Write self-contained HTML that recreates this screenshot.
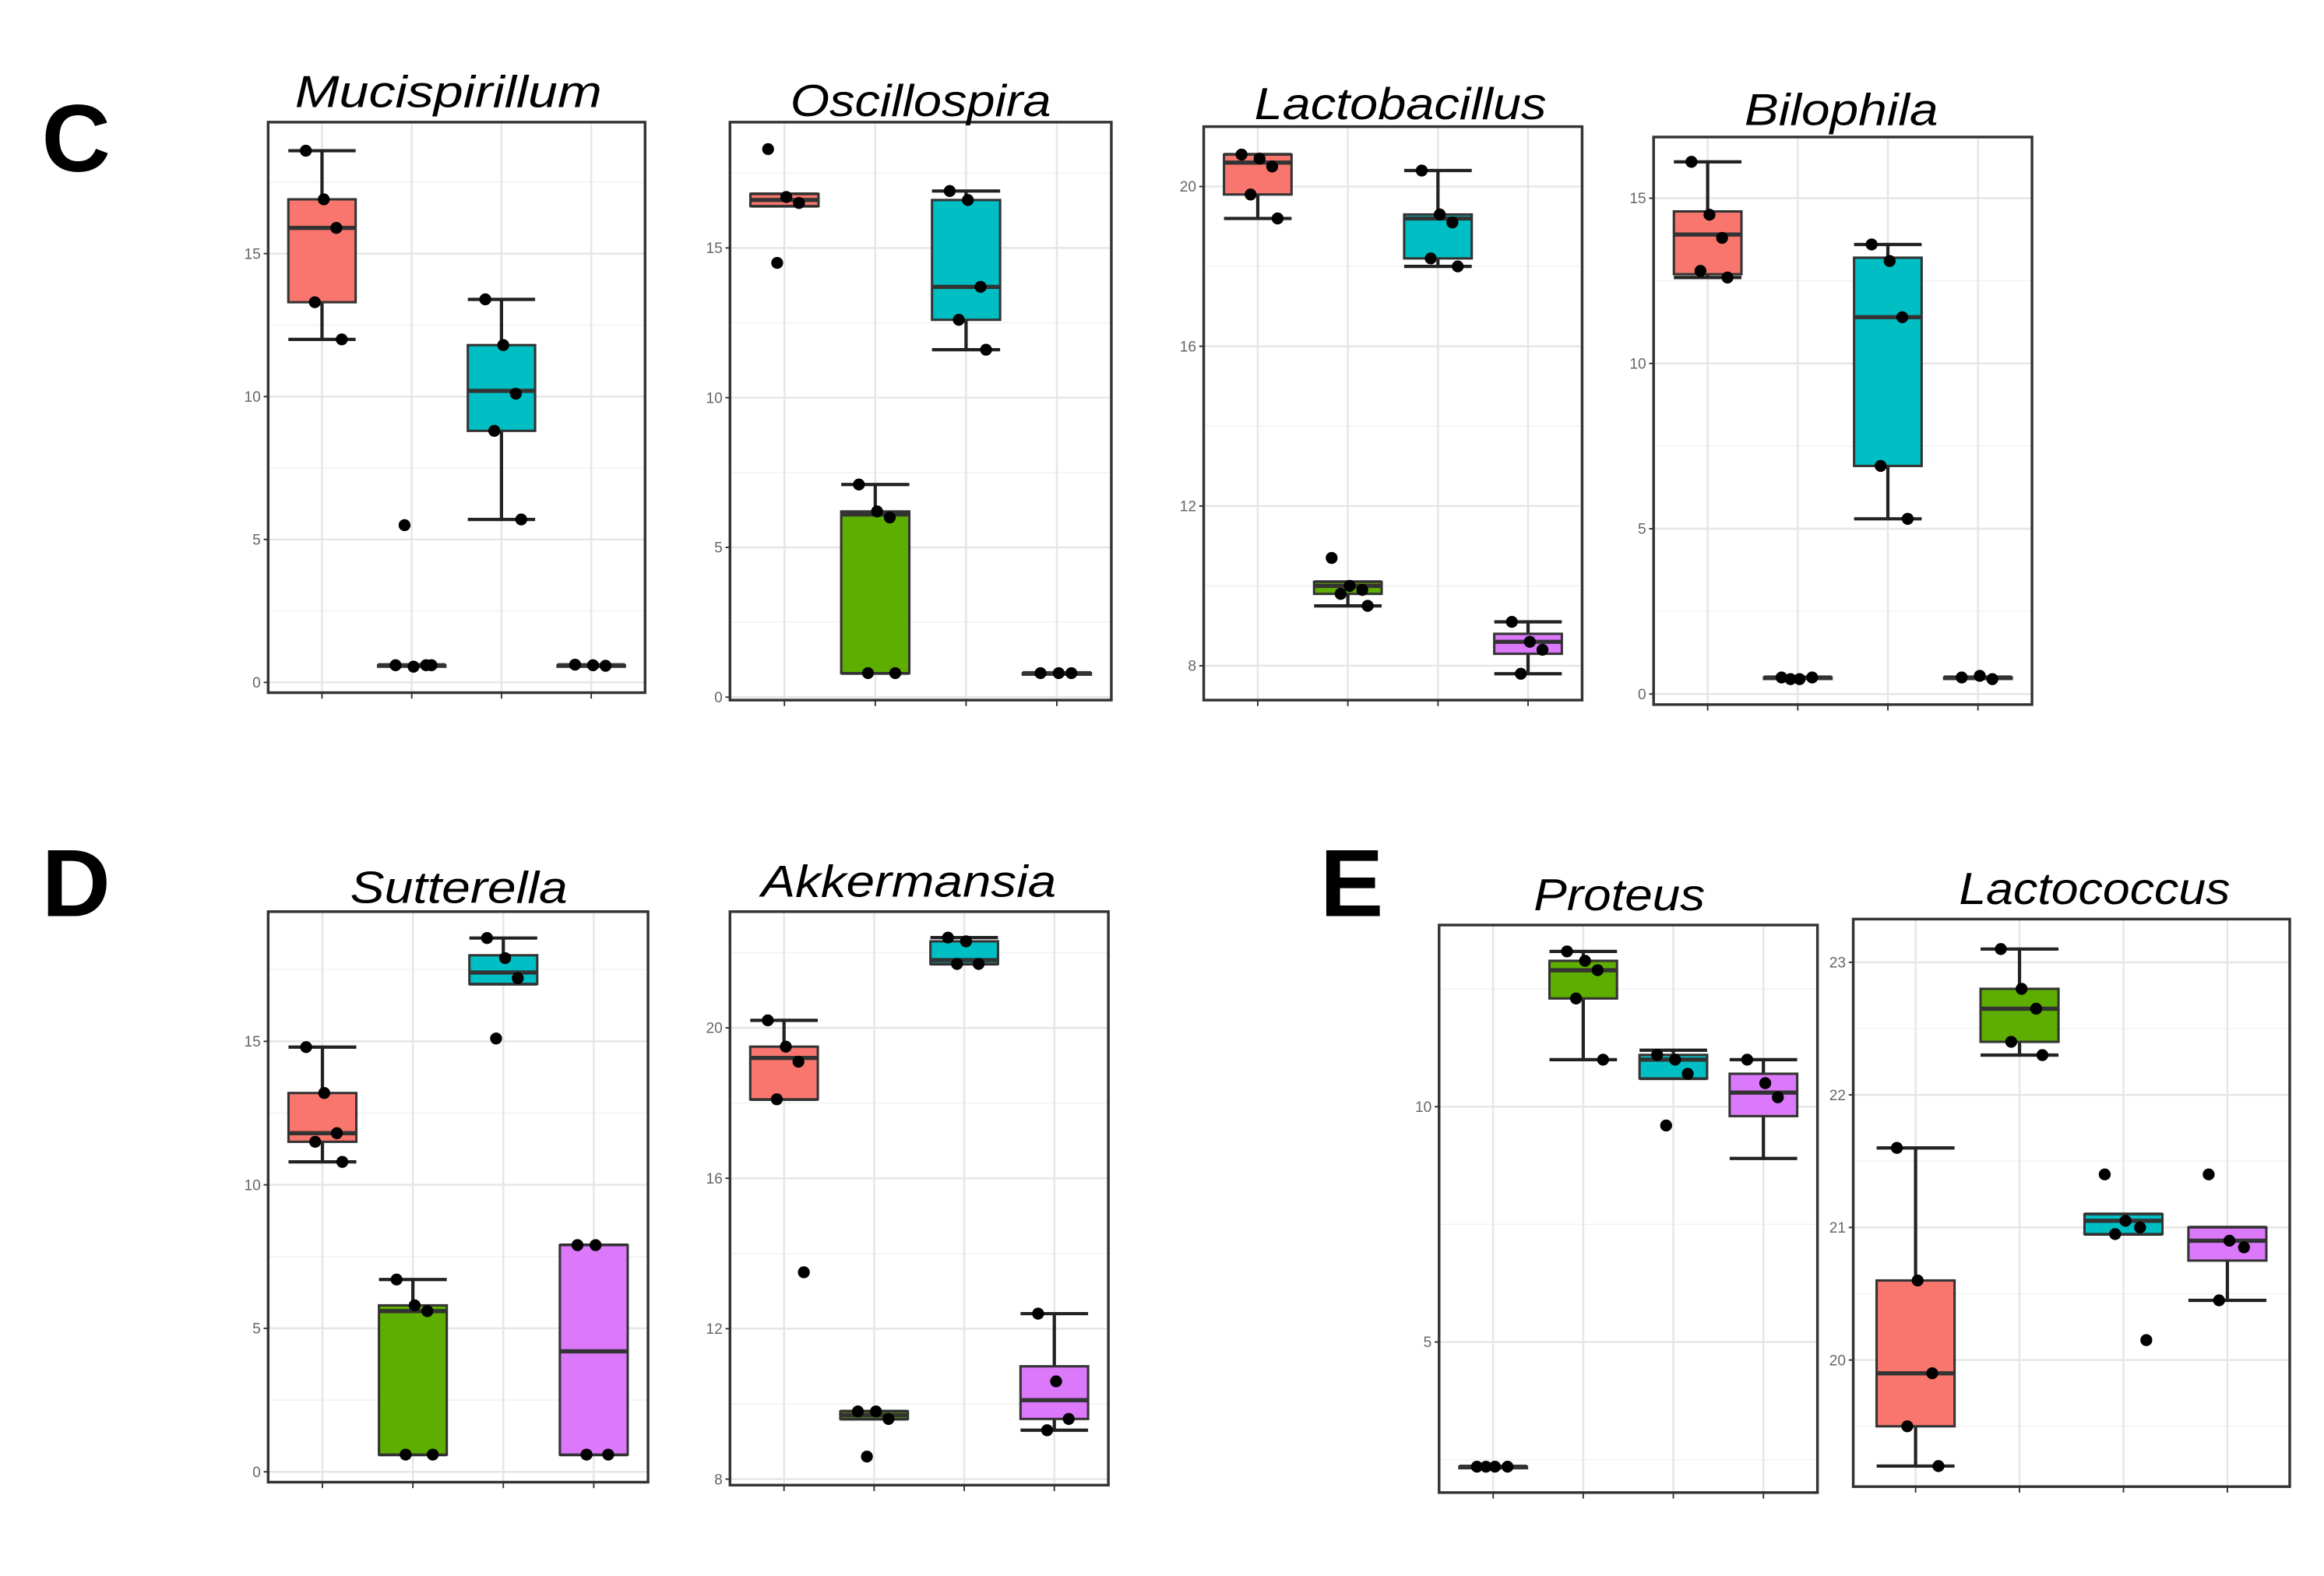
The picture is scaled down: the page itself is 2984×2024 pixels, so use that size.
<!DOCTYPE html>
<html><head><meta charset="utf-8"><style>
html,body{margin:0;padding:0;background:#fff;}
svg{display:block;}
</style></head><body>
<svg id="fig" xmlns="http://www.w3.org/2000/svg" width="2984" height="2024" viewBox="0 0 1560 1058" preserveAspectRatio="none">
<rect width="1560" height="1058" fill="#fff"/>
<text x="28" y="115" font-family="Liberation Sans, sans-serif" font-weight="bold" font-size="64">C</text>
<text x="28" y="615" font-family="Liberation Sans, sans-serif" font-weight="bold" font-size="64">D</text>
<text x="886" y="615" font-family="Liberation Sans, sans-serif" font-weight="bold" font-size="64">E</text>
</svg>
<script>
// ---- data ----
const groupColors = ["#F8766D", "#5DAE00", "#00BFC4", "#DC78FA"];
const titles = ["Mucispirillum","Oscillospira","Lactobacillus","Bilophila","Sutterella","Akkermansia","Proteus","Lactococcus"];
const yTicks = [[0,5,10,15],[0,5,10,15],[8,12,16,20],[0,5,10,15],[0,5,10,15],[8,12,16,20],[5,10],[20,21,22,23]];
const yDomains = [[-0.36,19.6],[-0.1,19.2],[7.14,21.5],[-0.32,16.85],[-0.36,19.52],[7.84,23.09],[1.8,13.86],[19.045,23.326]];
// per panel: for each group [whiskerLow, q1, median, q3, whiskerHigh]
const boxStats = [
 [[12.0,13.3,15.9,16.9,18.6],[0.6,0.6,0.6,0.6,0.6],[5.7,8.8,10.2,11.8,13.4],[0.6,0.6,0.6,0.6,0.6]],
 [[16.4,16.4,16.6,16.8,16.8],[0.8,0.8,6.1,6.2,7.1],[11.6,12.6,13.7,16.6,16.9],[0.8,0.8,0.8,0.8,0.8]],
 [[19.2,19.8,20.6,20.8,20.8],[9.5,9.8,10.0,10.1,10.1],[18.0,18.2,19.2,19.3,20.4],[7.8,8.3,8.6,8.8,9.1]],
 [[12.6,12.7,13.9,14.6,16.1],[0.5,0.5,0.5,0.5,0.5],[5.3,6.9,11.4,13.2,13.6],[0.5,0.5,0.5,0.5,0.5]],
 [[10.8,11.5,11.8,13.2,14.8],[0.6,0.6,5.6,5.8,6.7],[17.0,17.0,17.4,18.0,18.6],[0.6,0.6,4.2,7.9,7.9]],
 [[18.1,18.1,19.2,19.5,20.2],[9.6,9.6,9.7,9.8,9.8],[21.7,21.7,21.8,22.3,22.4],[9.3,9.6,10.1,11.0,12.4]],
 [[2.35,2.35,2.35,2.35,2.35],[11.0,12.3,12.9,13.1,13.3],[10.6,10.6,11.0,11.1,11.2],[8.9,9.8,10.3,10.7,11.0]],
 [[19.2,19.5,19.9,20.6,21.6],[22.3,22.4,22.65,22.8,23.1],[20.95,20.95,21.05,21.1,21.1],[20.45,20.75,20.9,21.0,21.0]]
];
// per panel: for each group the plotted points
const pointValues = [
 [[18.6,16.9,15.9,13.3,12.0],[0.6,0.55,0.6,5.5,0.6],[13.4,11.8,10.1,8.8,5.7],[0.62,0.6,0.58]],
 [[18.3,16.7,16.5,14.5],[7.1,6.2,6.0,0.8,0.8],[16.9,16.6,13.7,12.6,11.6],[0.8,0.8,0.8]],
 [[20.8,20.7,20.5,19.8,19.2],[10.7,10.0,9.9,9.8,9.5],[20.4,19.3,19.1,18.2,18.0],[9.1,8.6,8.4,7.8]],
 [[16.1,14.5,13.8,12.8,12.6],[0.5,0.45,0.5,0.45],[13.6,13.1,11.4,6.9,5.3],[0.5,0.55,0.45]],
 [[14.8,13.2,11.8,11.5,10.8],[6.7,5.8,5.6,0.6,0.6],[18.6,17.9,17.2,15.1],[7.9,7.9,0.6,0.6]],
 [[20.2,19.5,19.1,18.1,13.5],[9.8,9.8,9.6,8.6],[22.4,22.3,21.7,21.7],[12.4,10.6,9.6,9.3]],
 [[2.35,2.35,2.35,2.35],[13.3,13.1,12.9,12.3,11.0],[11.1,11.0,10.7,9.6],[11.0,10.5,10.2]],
 [[21.6,20.6,19.9,19.5,19.2],[23.1,22.8,22.65,22.4,22.3],[21.4,21.05,21.0,20.95,20.15],[21.4,20.9,20.85,20.45]]
];
// ---- layout ----
const frames = [[180,82,433,465],[490,82,746,470],[808,85,1062,470],[1110,92,1364,473],
                [180,612,435,995],[490,612,744,997],[966,621,1220,1002],[1244,617,1537,998]];
const titleLayout = [[301,72,206],[618,78,175],[940,80,196],[1236,84,130],[308,606,146],[610,602,198],[1087,611,115],[1406,607,182]];
const jitter = [-0.18,0.02,0.16,-0.08,0.22,-0.2];
const NS = "http://www.w3.org/2000/svg";
const svg = document.getElementById('fig');
function mk(tag, attrs, parent){ const e=document.createElementNS(NS,tag); for(const k in attrs) e.setAttribute(k,attrs[k]); (parent||svg).appendChild(e); return e; }

titles.forEach((t,p)=>{
  const [x0,y0,x1,y1] = frames[p];
  const [d0,d1] = yDomains[p];
  const ys = v => y1 - (v-d0)/(d1-d0)*(y1-y0);
  const xs = c => x0 + (c+0.6)/4.2*(x1-x0);
  const unit = (x1-x0)/4.2;
  const g = mk('g',{});
  
  
  const tk = yTicks[p];
  const step = tk.length>1 ? tk[1]-tk[0] : 5;
  for(let v=tk[0]-step/2; v<=d1; v+=step/2){
    if(v<d0) continue;
    const major = tk.some(a=>Math.abs(a-v)<1e-9);
    const ln = mk('line',{x1:x0,x2:x1,y1:ys(v),y2:ys(v),stroke:major?'#e6e6e6':'#f2f2f2','stroke-width':major?1.3:0.8},g);
    
    
  }
  for(let c=0;c<4;c++){
    const ln = mk('line',{x1:xs(c),x2:xs(c),y1:y0,y2:y1,stroke:'#e6e6e6','stroke-width':1.3},g);
    
    
    const tm = mk('line',{x1:xs(c),x2:xs(c),y1:y1,y2:y1+4,stroke:'#333','stroke-width':1},g);
    
    
  }
  tk.forEach(v=>{
    const tm = mk('line',{x1:x0-3,x2:x0,y1:ys(v),y2:ys(v),stroke:'#333','stroke-width':1},g);
    
    
    const tl = mk('text',{x:x0-5,y:ys(v)+3.5,'text-anchor':'end','font-family':'Liberation Sans, sans-serif','font-size':10,fill:'#666'},g);
    tl.textContent = v;
    
    
  });
  boxStats[p].forEach((s,c)=>{
    const cx = xs(c), hw = 0.375*unit;
    const bg = mk('g',{},g);
    
    
    mk('line',{x1:cx,x2:cx,y1:ys(s[0]),y2:ys(s[4]),stroke:'#222','stroke-width':2.2},bg);
    mk('line',{x1:cx-hw,x2:cx+hw,y1:ys(s[0]),y2:ys(s[0]),stroke:'#222','stroke-width':2.2},bg);
    mk('line',{x1:cx-hw,x2:cx+hw,y1:ys(s[4]),y2:ys(s[4]),stroke:'#222','stroke-width':2.2},bg);
    mk('rect',{x:cx-hw,y:ys(s[3]),width:2*hw,height:Math.max(ys(s[1])-ys(s[3]),1),fill:groupColors[c],stroke:'#333','stroke-width':1.6},bg);
    mk('line',{x1:cx-hw,x2:cx+hw,y1:ys(s[2]),y2:ys(s[2]),stroke:'#333','stroke-width':2.8},bg);
  });
  pointValues[p].forEach((pts,c)=>{
    pts.forEach((v,i)=>{
      const pt = mk('circle',{cx:xs(c)+jitter[i%jitter.length]*unit,cy:ys(v),r:4,fill:'#000'},g);
      
      
    });
  });
  const fr = mk('rect',{x:x0,y:y0,width:x1-x0,height:y1-y0,fill:'none',stroke:'#333','stroke-width':1.8},g);
  
  
  const [tx,ty,tw] = titleLayout[p];
  const tt = mk('text',{x:tx,y:ty,'text-anchor':'middle','font-family':'Liberation Sans, sans-serif','font-style':'italic','font-size':30,textLength:tw,lengthAdjust:'spacingAndGlyphs'},g);
  tt.textContent = t;
  
  
});
</script>
</body></html>
